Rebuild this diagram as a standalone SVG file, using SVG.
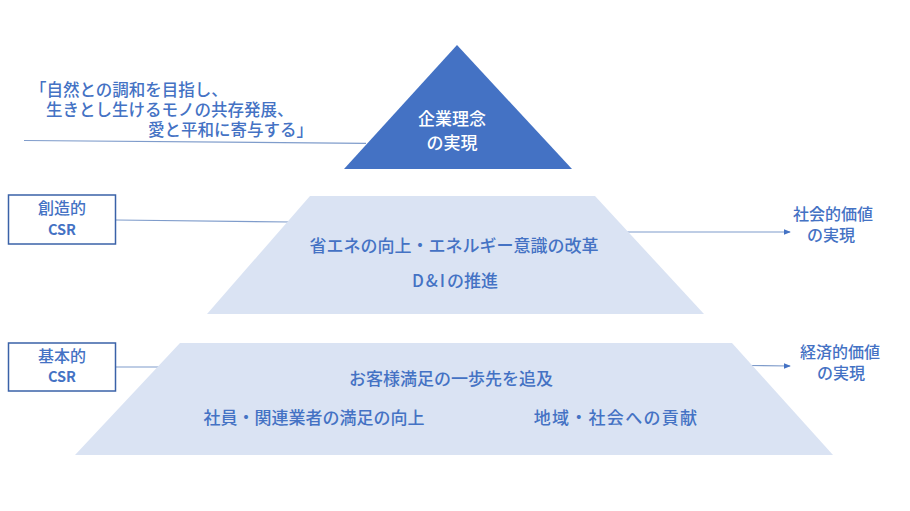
<svg xmlns="http://www.w3.org/2000/svg" width="910" height="511" viewBox="0 0 910 511">
<defs>
<style>
.t{font-family:"Noto Sans CJK JP","Noto Sans",sans-serif;fill:#4472C4;font-size:16.5px;font-weight:500}
.c{text-anchor:middle}
.w{fill:#FFFFFF;font-size:17px}
.m{font-size:17px}
.lab{font-size:16px}
.csr{font-size:14.5px;font-weight:bold}
.box{fill:#FFFFFF;stroke:#3A62A8;stroke-width:1.5}
.light{fill:#DAE3F3}
.ln{stroke:#7F9CCB;stroke-width:1.2;fill:none}
</style>
<marker id="ah" viewBox="0 0 8 8" refX="7" refY="4" markerWidth="7" markerHeight="7" markerUnits="userSpaceOnUse" orient="auto">
<path d="M0,0.8 L8,4 L0,7.2 Z" fill="#4472C4"/>
</marker>
</defs>
<rect width="910" height="511" fill="#FFFFFF"/>

<g id="connectors">
<line class="ln" x1="24" y1="140.5" x2="366" y2="143.3"/>
<line class="ln" x1="116" y1="220" x2="291" y2="222"/>
<line class="ln" x1="116" y1="367" x2="160" y2="367"/>
<line class="ln" x1="626" y1="232" x2="790" y2="232" marker-end="url(#ah)"/>
<line class="ln" x1="750" y1="365.5" x2="790" y2="366" marker-end="url(#ah)"/>
</g>

<g id="quote">
<text class="t" x="30" y="96">「自然との調和を目指し、</text>
<text class="t" x="46" y="116">生きとし生けるモノの共存発展、</text>
<text class="t" x="148" y="136">愛と平和に寄与する」</text>
</g>

<g id="top">
<polygon points="457,45 572,169 344,169" fill="#4472C4"/>
<text class="t c w" x="452" y="125">企業理念</text>
<text class="t c w" x="452" y="149">の実現</text>
</g>

<g id="middle">
<polygon class="light" points="310,196 595,196 704,314 207,314"/>
<text class="t c m" x="454" y="252">省エネの向上・エネルギー意識の改革</text>
<text class="t c m" x="455" y="287"><tspan letter-spacing="2">D&amp;I</tspan>の推進</text>
</g>

<g id="bottom">
<polygon class="light" points="180,343 732,343 833,455 75,455"/>
<text class="t c m" x="451" y="385">お客様満足の一歩先を追及</text>
<text class="t c m" x="314" y="424">社員・関連業者の満足の向上</text>
<text class="t c m" x="616" y="424" letter-spacing="1.3">地域・社会への貢献</text>
</g>

<g id="creative-csr">
<rect class="box" x="8.5" y="195" width="107" height="49"/>
<text class="t c lab" x="62" y="214">創造的</text>
<text class="t c csr" x="62" y="235">CSR</text>
</g>

<g id="basic-csr">
<rect class="box" x="8.5" y="343" width="107" height="48"/>
<text class="t c lab" x="62" y="362">基本的</text>
<text class="t c csr" x="62" y="382">CSR</text>
</g>

<g id="social-value">
<text class="t c lab" x="833" y="220">社会的価値</text>
<text class="t c lab" x="831" y="241">の実現</text>
</g>

<g id="economic-value">
<text class="t c lab" x="840" y="358">経済的価値</text>
<text class="t c lab" x="841" y="379">の実現</text>
</g>
</svg>
